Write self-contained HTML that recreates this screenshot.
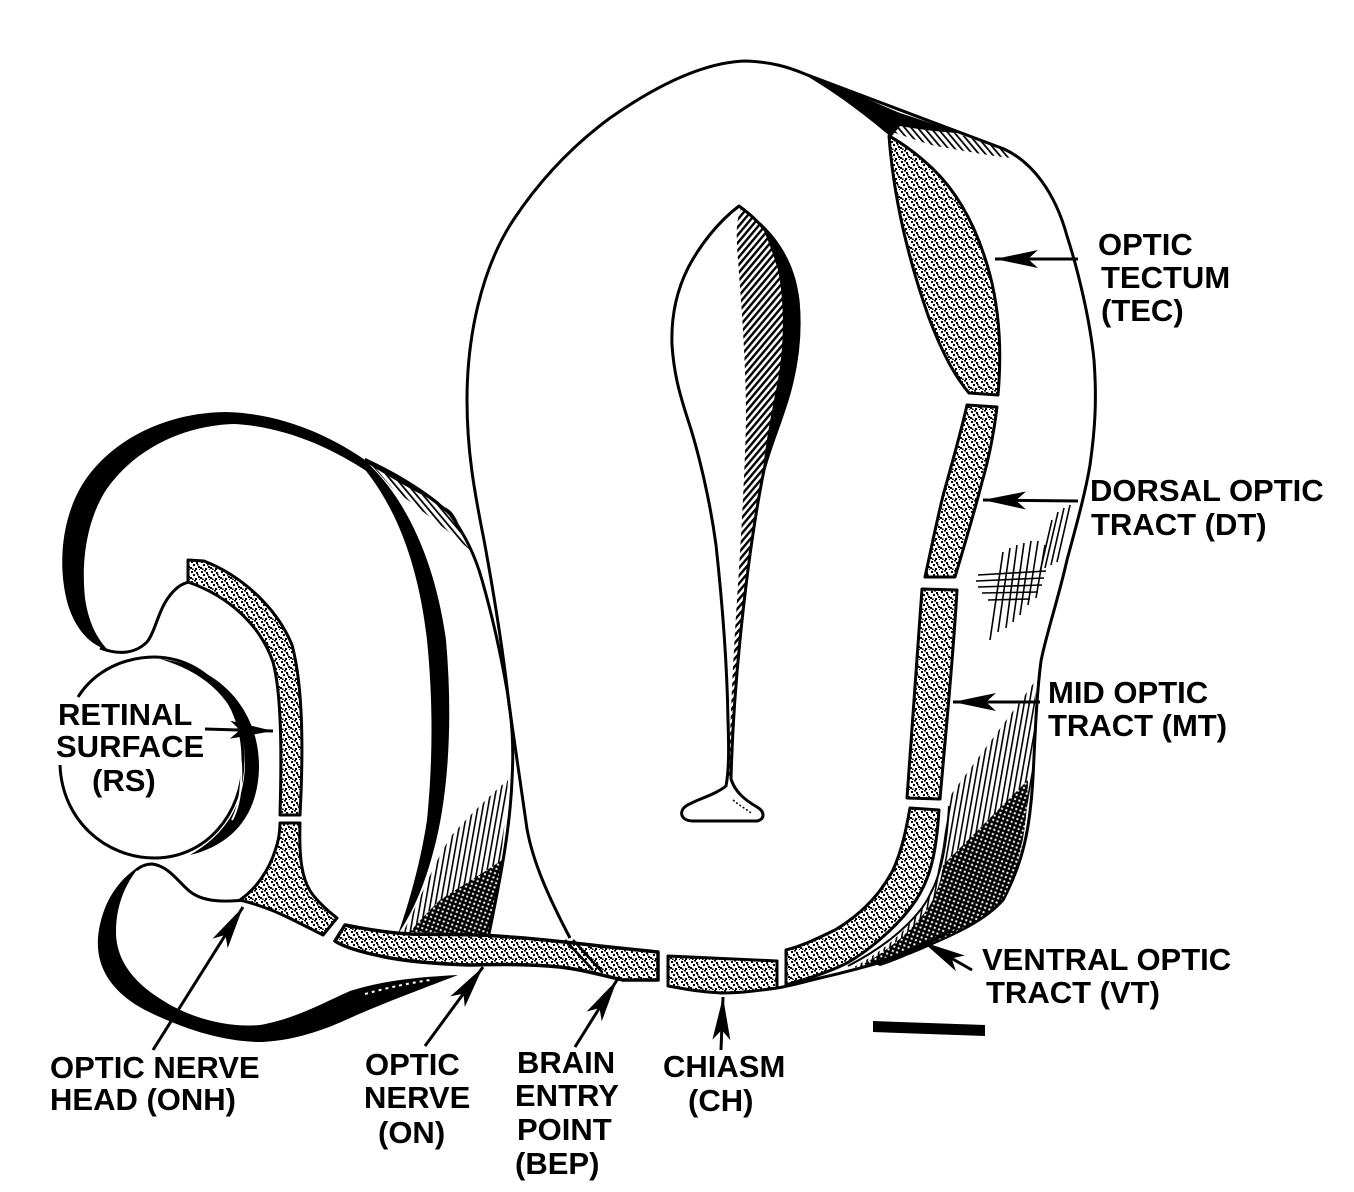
<!DOCTYPE html>
<html>
<head>
<meta charset="utf-8">
<style>
html,body{margin:0;padding:0;background:#fff;}
svg{display:block;}
text{font-family:"Liberation Sans",Arial,sans-serif;font-weight:bold;font-size:31px;fill:#000;}
</style>
</head>
<body>
<svg width="1354" height="1192" viewBox="0 0 1354 1192" xmlns="http://www.w3.org/2000/svg">
<defs>
  <pattern id="st" width="10" height="10" patternUnits="userSpaceOnUse">
    <rect width="10" height="10" fill="#fff"/>
    <rect x="1" y="1" width="2" height="2"/>
    <rect x="6" y="2" width="2" height="2"/>
    <rect x="3" y="4" width="2" height="2"/>
    <rect x="8" y="6" width="2" height="2"/>
    <rect x="0" y="7" width="2" height="2"/>
    <rect x="5" y="8" width="2" height="2"/>
    <rect x="4" y="0" width="2" height="1.6"/>
    <rect x="7" y="4" width="1.6" height="1.6"/>
    <rect x="2" y="8.5" width="1.6" height="1.5"/>
    <rect x="9" y="9" width="1" height="1"/>
  </pattern>
  <pattern id="hd" width="5" height="5" patternUnits="userSpaceOnUse" patternTransform="rotate(40)">
    <rect width="2.4" height="5"/>
  </pattern>
  <pattern id="hb" width="5" height="5" patternUnits="userSpaceOnUse" patternTransform="rotate(-40)">
    <rect width="1.8" height="5"/>
  </pattern>
  <pattern id="hv" width="5" height="5" patternUnits="userSpaceOnUse" patternTransform="rotate(10)">
    <rect width="1.6" height="5"/>
  </pattern>
  <pattern id="xh" width="4.5" height="4.5" patternUnits="userSpaceOnUse" patternTransform="rotate(20)">
    <rect width="4.5" height="4.5" fill="#000"/>
    <rect x="2.2" y="2.2" width="2" height="2" fill="#fff"/>
  </pattern>
  <marker id="ah" markerUnits="userSpaceOnUse" markerWidth="46" markerHeight="22" refX="43" refY="10" orient="auto">
    <path d="M0,1 L43,10 L0,19 L10,10 Z" fill="#000"/>
  </marker>
</defs>

<rect width="1354" height="1192" fill="#fff"/>

<!-- ===== EYE ===== -->
<path d="M365,458 C395,475 430,495 452,512 C462,528 468,540 472,552 C448,530 418,508 392,488 Z" fill="url(#hb)"/>
<path d="M365,458 C392,470 420,487 440,503 C418,494 395,480 365,462 Z" fill="#000"/>
<path d="M402,934 L490,934 C497,895 503,850 508,780 C490,795 470,815 452,835 C435,860 420,900 402,934 Z" fill="url(#hv)"/>
<path d="M410,932 L490,934 C495,910 499,885 502,860 C480,875 455,890 440,900 C428,912 418,922 410,932 Z" fill="url(#xh)"/>

<path d="M368,462 C330,435 280,413 225,412 C165,413 110,440 82,485 C60,522 58,570 68,605 C76,630 90,645 108,650 C96,638 88,620 85,598 C81,560 87,520 106,490 C136,447 186,425 235,424 C285,427 330,447 368,472 Z" fill="#000"/>
<path d="M100,648 C118,655 135,654 147,642 C155,632 158,612 168,598 C175,588 182,583 190,582" fill="none" stroke="#000" stroke-width="3"/>
<path d="M362,458 C405,495 435,560 446,640 C453,720 449,800 431,860 C421,895 409,918 398,934 C410,900 421,860 427,820 C433,760 433,700 427,640 C419,570 399,510 362,466 Z" fill="#000"/>
<path d="M366,460 C400,478 430,495 450,514 C465,535 475,555 482,580 C492,615 500,650 507,690 C512,720 514,745 512,780 C510,830 500,880 489,934" fill="none" stroke="#000" stroke-width="3"/>

<path d="M78,697 C95,670 125,657 155,657 C205,658 243,700 243,760 C243,815 205,858 155,858 C105,858 62,820 60,765" fill="none" stroke="#000" stroke-width="3"/>
<path d="M160,659 C215,665 258,705 259,765 C259,815 232,845 190,855 C225,835 244,805 245,765 C246,712 215,675 160,659 Z" fill="#000"/>
<path d="M236,740 C244,760 243,800 232,820" fill="none" stroke="#fff" stroke-width="2"/>

<path d="M245,900 C225,902 205,902 192,893 C180,885 170,866 152,864 C146,864 141,866 136,870" fill="none" stroke="#000" stroke-width="3"/>
<path d="M140,866 C117,880 101,905 98,938 C96,967 111,992 145,1010 C185,1030 225,1042 262,1042 C300,1040 330,1027 348,1019 C372,1008 398,998 458,975 C420,977 385,980 350,991 C325,1002 295,1019 260,1025 C225,1028 187,1017 159,998 C131,980 116,958 116,932 C116,905 125,884 140,866 Z" fill="#000"/>
<path d="M365,994 C390,987 410,983 430,980" fill="none" stroke="#fff" stroke-width="2" stroke-dasharray="3 4"/>

<path d="M188,560 L204,561 C240,575 276,606 292,645 C302,682 304,740 300,815 L280,815 C282,745 281,692 273,662 C261,627 231,597 188,582 Z" fill="url(#st)" stroke="#000" stroke-width="3" stroke-linejoin="round"/>
<path d="M280,823 L300,823 C299,855 301,880 313,895 C321,905 328,911 337,918 L323,935 C305,926 281,913 263,907 C255,904 248,902 240,900 C256,889 269,870 275,851 C279,840 280,830 280,823 Z" fill="url(#st)" stroke="#000" stroke-width="3" stroke-linejoin="round"/>

<!-- ===== BRAIN ===== -->
<path d="M570,938 C548,896 533,862 527,829 C520,780 513,730 509,704 C503,650 495,600 484,540 C474,490 467,450 467,400 C467,340 480,270 514,219 C540,180 572,146 610,118 C650,90 700,62 746,61 C772,62 788,67 805,74 C860,95 940,125 1004,149 C1032,162 1055,192 1067,236 C1078,270 1090,320 1094,360 C1097,400 1095,430 1090,465 C1085,495 1075,530 1067,560 C1058,600 1046,635 1041,661 C1036,700 1035,740 1033,777 C1030,830 1023,862 1003,900 C985,920 960,932 910,953 C880,963 855,970 820,978 C800,983 790,986 777,988" fill="none" stroke="#000" stroke-width="3"/>

<path d="M890,110 C940,128 975,140 1004,149 L1012,158 C990,156 960,150 935,146 C915,140 902,135 892,132 Z" fill="url(#hb)"/>
<path d="M800,72 C830,82 862,97 900,113 C925,121 945,128 960,133 C935,132 912,128 900,126 L891,137 C865,115 835,92 800,72 Z" fill="#000"/>

<g stroke="#000" stroke-width="1.6" fill="none">
  <line x1="1070" y1="505" x2="1057" y2="562"/>
  <line x1="1064" y1="508" x2="1051" y2="565"/>
  <line x1="1058" y1="512" x2="1045" y2="568"/>
  <line x1="1052" y1="520" x2="1040" y2="572"/>
  <line x1="978" y1="575" x2="1046" y2="571"/>
  <line x1="976" y1="581" x2="1044" y2="578"/>
  <line x1="978" y1="587" x2="1042" y2="585"/>
  <line x1="982" y1="593" x2="1038" y2="592"/>
  <line x1="988" y1="600" x2="1030" y2="599"/>
  <line x1="1003" y1="552" x2="990" y2="640"/>
  <line x1="1010" y1="548" x2="998" y2="632"/>
  <line x1="1017" y1="545" x2="1006" y2="628"/>
  <line x1="1024" y1="543" x2="1013" y2="622"/>
  <line x1="1031" y1="541" x2="1020" y2="615"/>
  <line x1="1038" y1="541" x2="1028" y2="605"/>
  <line x1="1045" y1="545" x2="1036" y2="598"/>
</g>

<path d="M947,800 L1036,680 L1033,777 C1030,830 1023,862 1003,900 C985,920 960,932 910,953 C885,962 868,966 852,968 C882,952 906,932 923,906 C938,880 945,850 947,800 Z" fill="url(#hv)"/>
<path d="M943,865 L1028,780 C1027,830 1021,862 1003,898 C985,918 960,932 910,952 C890,959 875,963 860,966 C890,950 915,928 930,905 C938,890 941,880 943,865 Z" fill="url(#xh)"/>
<path d="M870,962 C900,955 930,940 960,925 C930,946 905,958 880,966 Z" fill="#000"/>

<path d="M889,136 C893,190 905,250 929,318 C945,360 958,380 969,393 L998,395 C1002,350 999,310 990,275 C978,230 960,195 933,169 C915,152 900,142 889,136 Z" fill="url(#st)" stroke="#000" stroke-width="3" stroke-linejoin="round"/>
<path d="M967,405 L997,407 C993,440 987,465 982,482 C975,510 963,550 955,577 L925,577 C932,545 938,515 944,492 C953,460 961,432 967,405 Z" fill="url(#st)" stroke="#000" stroke-width="3" stroke-linejoin="round"/>
<path d="M922,589 L957,590 C953,660 946,730 940,799 L907,798 C912,730 917,660 922,589 Z" fill="url(#st)" stroke="#000" stroke-width="3" stroke-linejoin="round"/>
<path d="M910,808 L939,810 C936,858 929,880 916,900 C896,930 862,955 845,964 C822,975 802,980 786,985 L786,950 C805,945 820,937 835,930 C860,915 880,895 893,870 C902,850 906,830 910,808 Z" fill="url(#st)" stroke="#000" stroke-width="3" stroke-linejoin="round"/>
<path d="M949,806 C946,858 938,885 922,908 C902,934 875,952 848,966" fill="none" stroke="#000" stroke-width="2"/>
<path d="M668,956 L777,961 L777,988 C755,991 740,993 722,993 C700,992 685,989 668,986 Z" fill="url(#st)" stroke="#000" stroke-width="3" stroke-linejoin="round"/>
<path d="M345,925 C370,930 390,933 410,934 C450,935 480,934 510,937 C540,939 565,942 600,946 L658,952 L658,980 L623,980 C600,975 585,970 560,967 C530,964 500,964 470,965 C440,964 410,962 385,957 C365,953 345,948 335,941 Z" fill="url(#st)" stroke="#000" stroke-width="3.5" stroke-linejoin="round"/>
<line x1="565" y1="940" x2="593" y2="970" stroke="#000" stroke-width="2.5"/>
<line x1="573" y1="940" x2="602" y2="972" stroke="#000" stroke-width="2.5"/>

<path d="M739,206 C718,222 700,245 688,268 C676,292 671,318 672,345 C674,375 680,395 688,420 C698,450 710,500 716,545 C722,600 727,660 728,720 C729,750 729,770 726,786 C715,795 695,800 686,806 C679,811 680,820 692,821 L757,821 C766,819 764,811 757,807 C745,800 735,792 731,779 C732,740 735,690 740,640 C745,590 752,530 764,470 C772,440 782,420 790,390 C798,360 801,330 798,300 C793,265 770,228 739,206 Z" fill="#fff" stroke="#000" stroke-width="3" stroke-linejoin="round"/>
<path d="M741,208 C768,228 792,262 797,300 C800,330 798,360 790,390 C782,420 772,440 764,470 C752,530 745,590 740,640 C735,690 732,740 731,779 L729,779 C730,720 733,660 737,600 C741,540 745,470 746,420 C746,360 741,300 738,260 C736,235 736,220 741,208 Z" fill="url(#hd)"/>
<path d="M760,222 C785,245 799,275 800,310 C801,345 795,375 783,410 C775,435 768,455 762,478 C766,440 772,410 778,380 C785,340 784,300 778,270 C772,250 766,235 760,222 Z" fill="#000"/>
<path d="M733,800 C740,806 748,810 752,814" fill="none" stroke="#000" stroke-width="1.5" stroke-dasharray="2 2"/>

<polygon points="873,1021 985,1025 985,1036 873,1032" fill="#000"/>

<g stroke="#000" stroke-width="3" fill="none" marker-end="url(#ah)">
  <line x1="1078" y1="259" x2="995" y2="259"/>
  <line x1="1078" y1="501" x2="983" y2="500"/>
  <line x1="1040" y1="702" x2="953" y2="702"/>
  <line x1="972" y1="970" x2="923" y2="942"/>
  <line x1="205" y1="729" x2="273" y2="731"/>
  <line x1="153" y1="1050" x2="243" y2="907"/>
  <line x1="425" y1="1046" x2="483" y2="967"/>
  <line x1="575" y1="1047" x2="617" y2="980"/>
  <line x1="721" y1="1050" x2="723" y2="997"/>
</g>

<text x="1098" y="255">OPTIC</text>
<text x="1101" y="288">TECTUM</text>
<text x="1101" y="321">(TEC)</text>

<text x="1090" y="501">DORSAL OPTIC</text>
<text x="1091" y="535">TRACT (DT)</text>

<text x="1048" y="703">MID OPTIC</text>
<text x="1048" y="736">TRACT (MT)</text>

<text x="982" y="970">VENTRAL OPTIC</text>
<text x="986" y="1003">TRACT (VT)</text>

<text x="58" y="725">RETINAL</text>
<text x="56" y="757">SURFACE</text>
<text x="92" y="791">(RS)</text>

<text x="50" y="1078">OPTIC NERVE</text>
<text x="50" y="1110">HEAD (ONH)</text>

<text x="365" y="1075">OPTIC</text>
<text x="364" y="1108">NERVE</text>
<text x="378" y="1143">(ON)</text>

<text x="517" y="1073">BRAIN</text>
<text x="515" y="1106">ENTRY</text>
<text x="517" y="1140">POINT</text>
<text x="515" y="1174">(BEP)</text>

<text x="663" y="1077">CHIASM</text>
<text x="688" y="1111">(CH)</text>
</svg>
</body>
</html>
